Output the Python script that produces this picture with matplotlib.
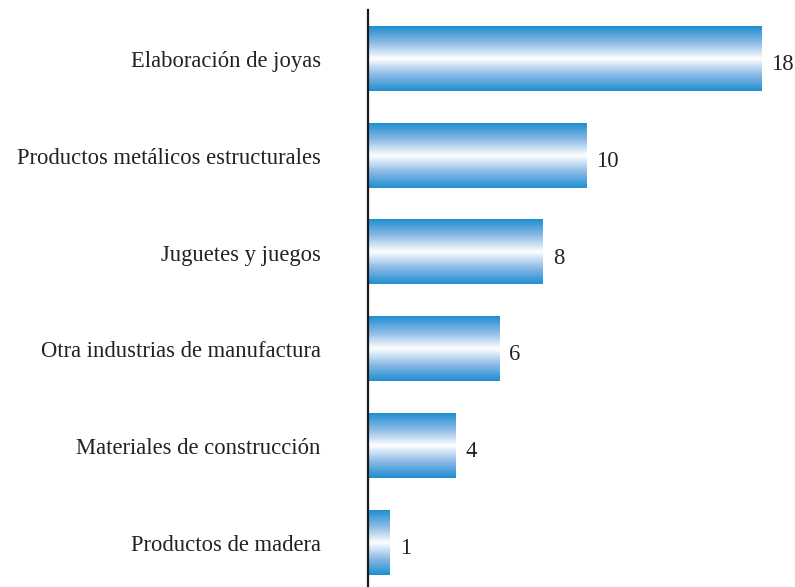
import numpy as np
import matplotlib.pyplot as plt
import matplotlib.transforms as mtransforms
from matplotlib.colors import LinearSegmentedColormap

categorias = ['Elaboración de joyas', 'Productos metálicos estructurales',
              'Juguetes y juegos', 'Otra industrias de manufactura',
              'Materiales de construcción', 'Productos de madera']
valores = [18, 10, 8, 6, 4, 1]

plt.rcParams['font.family'] = ['Liberation Serif', 'DejaVu Serif']

fig = plt.figure(figsize=(7.95, 5.87), dpi=100)
ax = fig.add_axes([368 / 795, 0, 427 / 795, 577 / 587])

# degradado azul-blanco-azul en vertical para cada barra
cmap = LinearSegmentedColormap.from_list('barra', ['#1e8fd0', '#8ab9e6', '#ffffff', '#8ab9e6', '#1e8fd0'])
grad = np.linspace(0, 1, 256).reshape(-1, 1)

alto = 0.67
y = np.arange(len(categorias))
for yi, v in zip(y, valores):
    ax.imshow(grad, cmap=cmap, aspect='auto', interpolation='bilinear',
              extent=(0, v, yi + alto / 2, yi - alto / 2), zorder=2)
    ax.annotate(str(v), (v, yi), xytext=(10, -6), textcoords='offset pixels',
                ha='left', va='center', fontsize=16.3, color='#222222')

ax.set_xlim(0, 19.54)
ax.set_ylim(5.46, -0.5)
ax.set_yticks(y)
ax.set_yticklabels(categorias, fontsize=16.3, color='#222222', va='center')
ax.tick_params(axis='y', length=0, pad=34)
# bajar un poco las etiquetas
desp = mtransforms.ScaledTranslation(0, -3 / 100, fig.dpi_scale_trans)
for lab in ax.get_yticklabels():
    lab.set_transform(lab.get_transform() + desp)
ax.set_xticks([])
for lado in ['top', 'right', 'bottom']:
    ax.spines[lado].set_visible(False)
ax.spines['left'].set_linewidth(1.6)
ax.spines['left'].set_color('#1a1a1a')

fig.savefig('out.png', dpi=100)
